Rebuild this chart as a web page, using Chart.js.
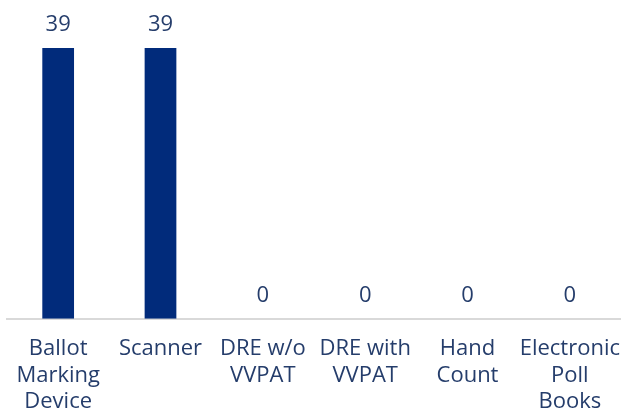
<!DOCTYPE html>
<html>
<head>
<meta charset="utf-8">
<script src="https://cdn.jsdelivr.net/npm/chart.js@4"></script>
<style>
  body { margin: 0; background: #fff; }
  #wrap { width: 621px; height: 410px; }
</style>
</head>
<body>
<div id="wrap"><canvas id="chart" width="621" height="410"></canvas></div>
<script>
const categories = [
    ["Ballot", "Marking", "Device"],
    ["Scanner"],
    ["DRE w/o", "VVPAT"],
    ["DRE with", "VVPAT"],
    ["Hand", "Count"],
    ["Electronic", "Poll", "Books"]
];
const counts = [39, 39, 0, 0, 0, 0];

const barColor = "#012b7b";
const textColor = "#253d6b";
const fontFamily = "'Open Sans', sans-serif";

// draws the value above each bar
const valueLabels = {
    id: "valueLabels",
    afterDatasetsDraw(chart) {
        const ctx = chart.ctx;
        const meta = chart.getDatasetMeta(0);
        ctx.save();
        ctx.fillStyle = textColor;
        ctx.font = "22px " + fontFamily;
        ctx.textAlign = "center";
        ctx.textBaseline = "middle";
        meta.data.forEach((bar, i) => {
            ctx.fillText(String(counts[i]), bar.x, bar.y - 23);
        });
        ctx.restore();
    }
};

new Chart(document.getElementById("chart"), {
    type: "bar",
    data: {
        labels: categories,
        datasets: [{
            data: counts,
            backgroundColor: barColor,
            categoryPercentage: 1,
            barPercentage: 0.31
        }]
    },
    options: {
        responsive: false,
        animation: false,
        layout: { padding: { top: 48, left: 7, right: -4, bottom: -22 } },
        plugins: {
            legend: { display: false },
            tooltip: { enabled: false }
        },
        scales: {
            x: {
                grid: { display: false, drawTicks: false },
                border: { display: true, color: "#d9d9d9", width: 2 },
                ticks: {
                    color: textColor,
                    padding: 17,
                    maxRotation: 0,
                    autoSkip: false,
                    font: { family: fontFamily, size: 22, lineHeight: 1.2 }
                },
                afterFit(scale) {
                    scale.paddingLeft = 0;
                    scale.paddingRight = 0;
                }
            },
            y: {
                display: false,
                min: 0,
                max: 39
            }
        }
    },
    plugins: [valueLabels]
});
</script>
</body>
</html>
